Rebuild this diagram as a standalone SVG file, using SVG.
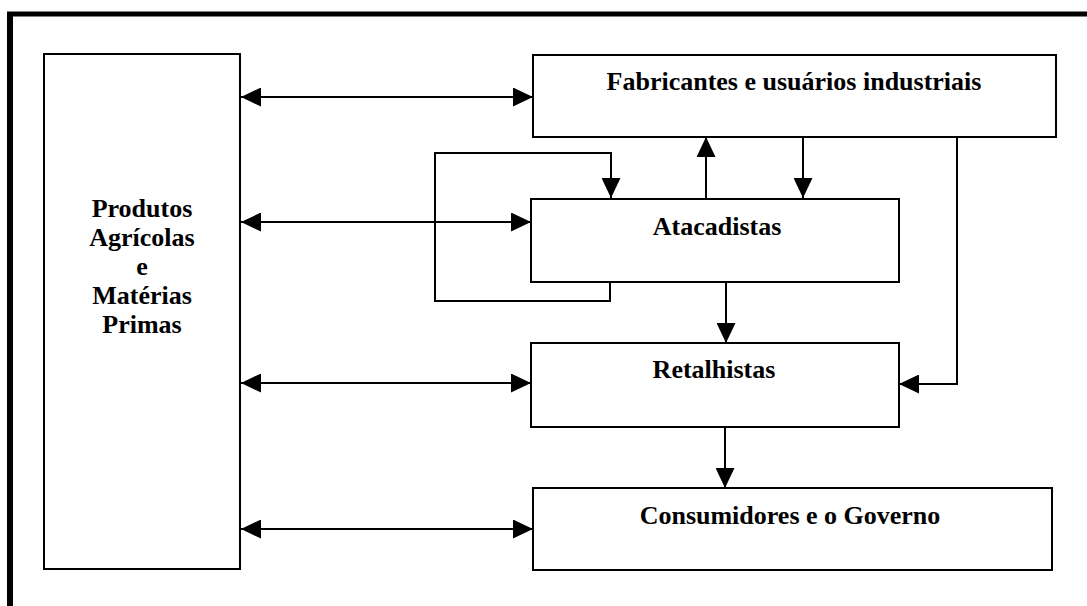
<svg xmlns="http://www.w3.org/2000/svg" width="1087" height="606" viewBox="0 0 1087 606">
  <style>
    .box { fill: #ffffff; stroke: #000000; stroke-width: 2; }
    .lbl { font-family: "Liberation Serif", "Times New Roman", serif; font-weight: bold; font-size: 26px; fill: #000000; text-anchor: middle; }
    .wire { fill: none; stroke: #000000; stroke-width: 2; }
    .frame { fill: none; stroke: #000000; }
  </style>
  <defs>
    <marker id="arrow" viewBox="0 0 20 19" refX="20" refY="9.5" markerWidth="20" markerHeight="19" markerUnits="userSpaceOnUse" orient="auto-start-reverse">
      <path d="M0,0 L20,9.5 L0,19 z" fill="#000000"/>
    </marker>
  </defs>

  <rect width="1087" height="606" fill="#ffffff"/>

  <!-- outer page frame -->
  <g id="frame">
    <line class="frame" x1="7" y1="14" x2="1087" y2="14" stroke-width="5"/>
    <line class="frame" x1="10" y1="12" x2="10" y2="606" stroke-width="6"/>
  </g>

  <!-- connectors -->
  <g id="connectors">
    <!-- two-way links with the raw-material column -->
    <line class="wire" x1="241" y1="97" x2="533" y2="97" marker-start="url(#arrow)" marker-end="url(#arrow)"/>
    <line class="wire" x1="241" y1="222" x2="531" y2="222" marker-start="url(#arrow)" marker-end="url(#arrow)"/>
    <line class="wire" x1="241" y1="383" x2="531" y2="383" marker-start="url(#arrow)" marker-end="url(#arrow)"/>
    <line class="wire" x1="241" y1="529" x2="533" y2="529" marker-start="url(#arrow)" marker-end="url(#arrow)"/>
    <!-- wholesalers feeding back into themselves -->
    <polyline class="wire" points="610,282 610,301 435,301 435,153 611,153 611,198" marker-end="url(#arrow)"/>
    <!-- wholesalers up to manufacturers -->
    <line class="wire" x1="706" y1="198" x2="706" y2="137" marker-end="url(#arrow)"/>
    <!-- manufacturers down to wholesalers -->
    <line class="wire" x1="803" y1="137" x2="803" y2="198" marker-end="url(#arrow)"/>
    <!-- manufacturers straight to retailers -->
    <polyline class="wire" points="957,137 957,384 899,384" marker-end="url(#arrow)"/>
    <!-- wholesalers to retailers -->
    <line class="wire" x1="726" y1="282" x2="726" y2="343" marker-end="url(#arrow)"/>
    <!-- retailers to consumers -->
    <line class="wire" x1="725" y1="427" x2="725" y2="488" marker-end="url(#arrow)"/>
  </g>

  <!-- nodes -->
  <g id="produtos">
    <rect class="box" x="44" y="54" width="196" height="515"/>
    <text class="lbl" x="142" y="217">Produtos</text>
    <text class="lbl" x="142" y="246">Agrícolas</text>
    <text class="lbl" x="142" y="275">e</text>
    <text class="lbl" x="142" y="304">Matérias</text>
    <text class="lbl" x="142" y="333">Primas</text>
  </g>
  <g id="fabricantes">
    <rect class="box" x="533" y="55" width="523" height="82"/>
    <text class="lbl" x="794" y="90">Fabricantes e usuários industriais</text>
  </g>
  <g id="atacadistas">
    <rect class="box" x="531" y="199" width="368" height="83"/>
    <text class="lbl" x="717" y="235">Atacadistas</text>
  </g>
  <g id="retalhistas">
    <rect class="box" x="531" y="343" width="368" height="84"/>
    <text class="lbl" x="714" y="378">Retalhistas</text>
  </g>
  <g id="consumidores">
    <rect class="box" x="533" y="488" width="519" height="82"/>
    <text class="lbl" x="790" y="524">Consumidores e o Governo</text>
  </g>
</svg>
